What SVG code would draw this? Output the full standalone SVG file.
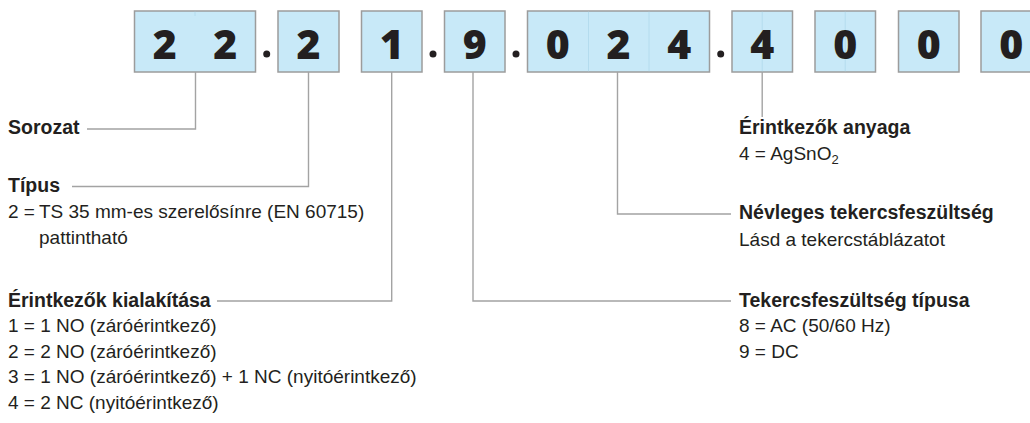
<svg xmlns="http://www.w3.org/2000/svg" width="1030" height="423" viewBox="0 0 1030 423">
<style>
.box{fill:#c8e9f8;stroke:#9c9c9c;stroke-width:1.5}
.tick{stroke:#b4dcee;stroke-width:1}
.dig{font-family:"Open Sans","Liberation Sans",sans-serif;font-weight:800;font-size:41px;fill:#231f20;text-anchor:middle}
.dot{fill:#231f20}
.con{fill:none;stroke:#a3a3a3;stroke-width:1.4}
.h{font-family:"Liberation Sans",Arial,sans-serif;font-weight:700;font-size:19.5px;fill:#231f20}
.t{font-family:"Liberation Sans",Arial,sans-serif;font-size:19px;fill:#231f20}
</style>
<rect width="1030" height="423" fill="#ffffff"/>
<g id="code">
<g id="box-series"><rect class="box" x="134.5" y="11" width="121" height="61"/><line class="tick" x1="195" y1="11.8" x2="195" y2="16"/><text class="dig" x="164.8" y="58.5">2</text><text class="dig" x="225.3" y="58.5">2</text></g>
<circle class="dot" cx="266.7" cy="54" r="3.5"/>
<g id="box-type"><rect class="box" x="278" y="11" width="61" height="61"/><text class="dig" x="308.5" y="58.5">2</text></g>
<g id="box-contacts"><rect class="box" x="361.5" y="11" width="60.5" height="61"/><text class="dig" x="391.8" y="58.5">1</text></g>
<circle class="dot" cx="433" cy="54" r="3.5"/>
<g id="box-coiltype"><rect class="box" x="444.5" y="11" width="60.5" height="61"/><text class="dig" x="474.8" y="58.5">9</text></g>
<circle class="dot" cx="516" cy="54" r="3.5"/>
<g id="box-voltage"><rect class="box" x="527.5" y="11" width="182" height="61"/><line class="tick" x1="588.5" y1="11.8" x2="588.5" y2="71.2"/><line class="tick" x1="649" y1="11.8" x2="649" y2="71.2"/><text class="dig" x="557.8" y="58.5">0</text><text class="dig" x="618.5" y="58.5">2</text><text class="dig" x="679.2" y="58.5">4</text></g>
<circle class="dot" cx="720.7" cy="54" r="3.5"/>
<g id="box-material"><rect class="box" x="732" y="11" width="60.5" height="61"/><line class="tick" x1="762.2" y1="11.8" x2="762.2" y2="71.2"/><text class="dig" x="762.2" y="58.5">4</text></g>
<g id="box-0a"><rect class="box" x="815" y="11" width="60.5" height="61"/><line class="tick" x1="845.2" y1="11.8" x2="845.2" y2="71.2"/><text class="dig" x="845.2" y="58.5">0</text></g>
<g id="box-0b"><rect class="box" x="898.5" y="11" width="60.5" height="61"/><text class="dig" x="928.7" y="58.5">0</text></g>
<g id="box-0c"><rect class="box" x="981" y="11" width="60.5" height="61"/><text class="dig" x="1011.2" y="58.5">0</text></g>
</g>
<g id="connectors">
<polyline class="con" points="195.5,72 195.5,129 87,129"/>
<polyline class="con" points="308.5,72 308.5,186.5 72,186.5"/>
<polyline class="con" points="391.7,72 391.7,301 217,301"/>
<polyline class="con" points="473,72 473,301 731,301"/>
<polyline class="con" points="617.5,72 617.5,214 731,214"/>
<polyline class="con" points="762.2,72 762.2,117"/>
</g>
<g id="label-series"><text class="h" x="8" y="134">Sorozat</text></g>
<g id="label-type">
<text class="h" x="8" y="191.5">Típus</text>
<text class="t" x="8" y="218">2 =<tspan x="39">TS 35 mm-es szerelősínre (EN 60715)</tspan></text>
<text class="t" x="39" y="244">pattintható</text>
</g>
<g id="label-contacts">
<text class="h" x="8" y="306.5">Érintkezők kialakítása</text>
<text class="t" x="8" y="332">1 = 1 NO (záróérintkező)</text>
<text class="t" x="8" y="357.5">2 = 2 NO (záróérintkező)</text>
<text class="t" x="8" y="383">3 = 1 NO (záróérintkező) + 1 NC (nyitóérintkező)</text>
<text class="t" x="8" y="408.5">4 = 2 NC (nyitóérintkező)</text>
</g>
<g id="label-material">
<text class="h" x="739" y="133.5">Érintkezők anyaga</text>
<text class="t" x="739" y="160">4 = AgSnO<tspan font-size="13" dy="4">2</tspan></text>
</g>
<g id="label-voltage">
<text class="h" x="739" y="219">Névleges tekercsfeszültség</text>
<text class="t" x="739" y="245.5">Lásd a tekercstáblázatot</text>
</g>
<g id="label-coiltype">
<text class="h" x="739" y="306.5">Tekercsfeszültség típusa</text>
<text class="t" x="739" y="332">8 = AC (50/60 Hz)</text>
<text class="t" x="739" y="357.5">9 = DC</text>
</g>
</svg>
